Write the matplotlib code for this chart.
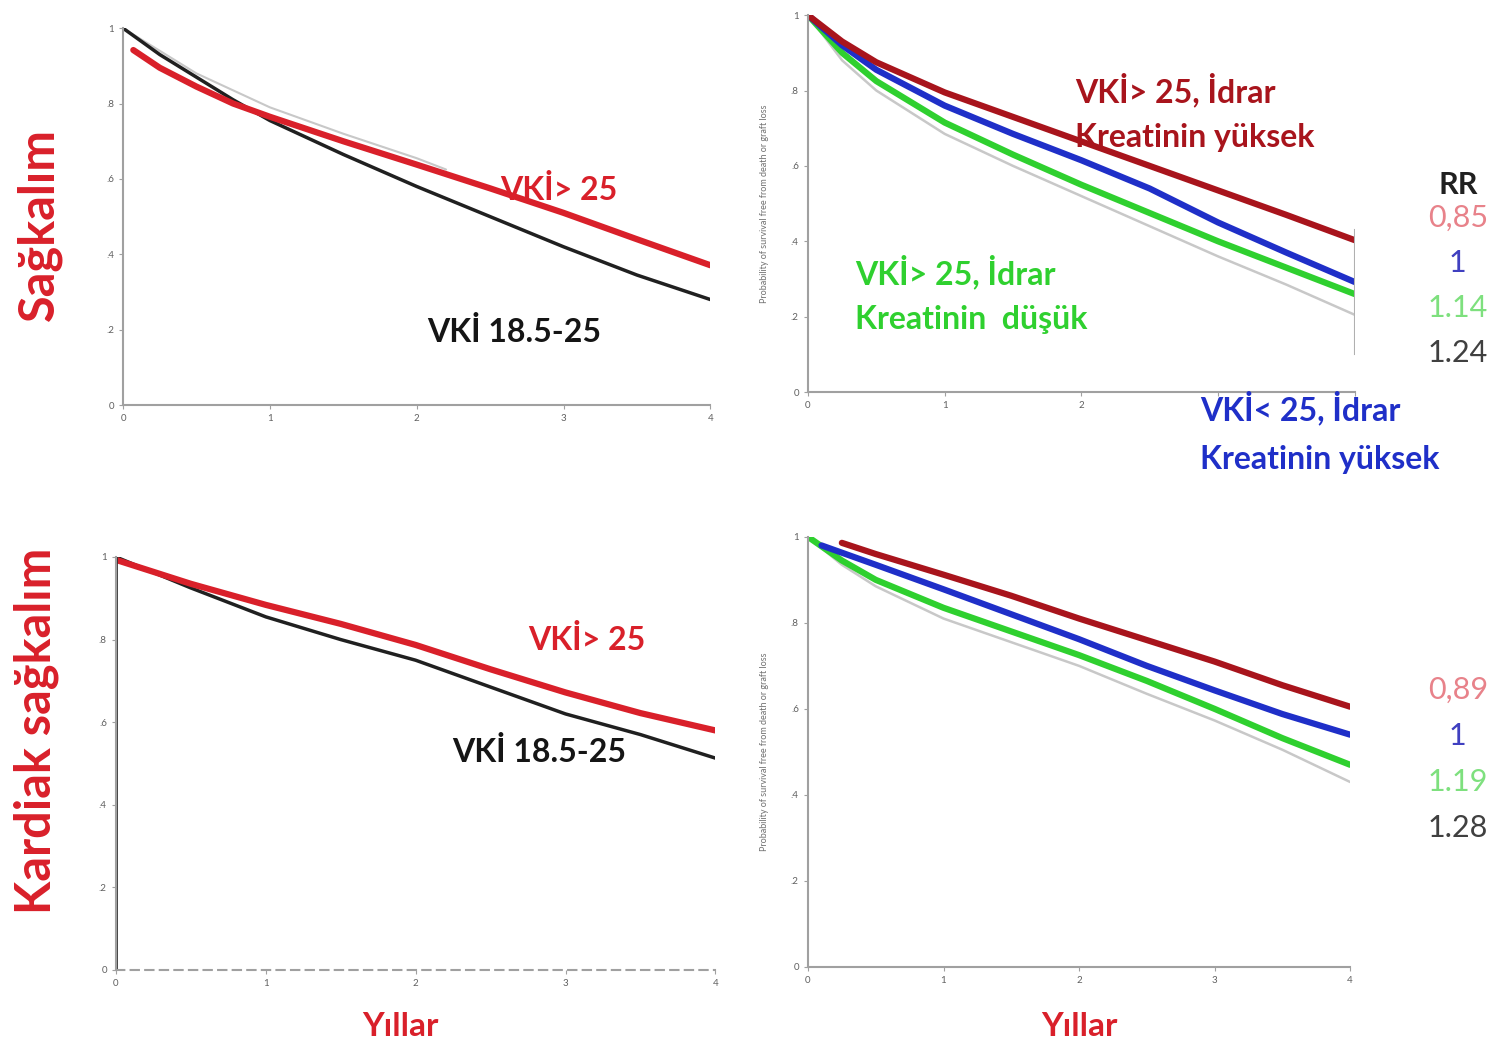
import matplotlib
matplotlib.use('Agg')
import matplotlib.pyplot as plt

plt.rcParams['font.family'] = ['Lato', 'DejaVu Sans']

# sol üst: genel sağkalım (yıl, oran)
tl_black_x = [0, 0.25, 0.5, 0.75, 1, 1.5, 2, 2.5, 3, 3.5, 4]
tl_black = [1.0, 0.93, 0.87, 0.81, 0.755, 0.665, 0.58, 0.50, 0.42, 0.345, 0.28]
tl_red_x = [0.07, 0.25, 0.5, 0.75, 1, 1.5, 2, 2.5, 3, 3.5, 4]
tl_red = [0.942, 0.895, 0.845, 0.80, 0.765, 0.70, 0.638, 0.575, 0.51, 0.44, 0.371]
tl_gray_x = [0, 0.5, 1, 1.5, 2, 2.2]
tl_gray = [1.0, 0.88, 0.79, 0.72, 0.655, 0.625]

# sağ üst: idrar kreatinin grupları
tr_x = [0, 0.25, 0.5, 1, 1.5, 2, 2.5, 3, 3.5, 4]
tr_red = [1.0, 0.93, 0.875, 0.795, 0.73, 0.665, 0.60, 0.535, 0.47, 0.403]
tr_blue = [1.0, 0.92, 0.855, 0.76, 0.685, 0.615, 0.54, 0.45, 0.37, 0.292]
tr_green = [1.0, 0.90, 0.825, 0.715, 0.63, 0.55, 0.475, 0.40, 0.33, 0.26]
tr_gray = [1.0, 0.88, 0.80, 0.685, 0.60, 0.52, 0.44, 0.36, 0.285, 0.205]

# sol alt: kardiak sağkalım
bl_x = [0, 0.5, 1, 1.5, 2, 2.5, 3, 3.5, 4]
bl_red = [0.993, 0.935, 0.884, 0.838, 0.787, 0.728, 0.672, 0.622, 0.58]
bl_black = [1.0, 0.925, 0.855, 0.80, 0.75, 0.685, 0.62, 0.57, 0.513]

# sağ alt
br_x = [0, 0.25, 0.5, 1, 1.5, 2, 2.5, 3, 3.5, 4]
br_red_x = [0.25, 0.5, 1, 1.5, 2, 2.5, 3, 3.5, 4]
br_red = [0.986, 0.96, 0.912, 0.863, 0.81, 0.76, 0.71, 0.655, 0.605]
br_blue_x = [0.1, 0.5, 1, 1.5, 2, 2.5, 3, 3.5, 4]
br_blue = [0.98, 0.935, 0.878, 0.82, 0.762, 0.70, 0.643, 0.588, 0.54]
br_green = [1.0, 0.945, 0.90, 0.835, 0.78, 0.725, 0.665, 0.60, 0.532, 0.47]
br_gray = [1.0, 0.935, 0.885, 0.81, 0.755, 0.70, 0.635, 0.573, 0.505, 0.43]

rr_top = ['0,85', '1', '1.14', '1.24']
rr_bottom = ['0,89', '1', '1.19', '1.28']
rr_colors = ['#e8828a', '#4040c0', '#7ee07e', '#404040']

y_ticks = [0, 0.2, 0.4, 0.6, 0.8, 1]
y_ticklabels = ['0', '.2', '.4', '.6', '.8', '1']
x_ticks = [0, 1, 2, 3, 4]

RED = '#d9202a'
DARKRED = '#a8141c'
BLUE = '#1f2fc8'
GREEN = '#2fd02f'
GRAY = '#c8c8c8'
LW = dict(solid_capstyle='round', solid_joinstyle='round')


def style_axes(ax, ylabel=None):
    for s in ['top', 'right']:
        ax.spines[s].set_visible(False)
    for s in ['left', 'bottom']:
        ax.spines[s].set_color('#a0a0a0')
        ax.spines[s].set_linewidth(1.5)
    ax.set_xlim(0, 4)
    ax.set_ylim(0, 1)
    ax.set_xticks(x_ticks)
    ax.set_yticks(y_ticks)
    ax.set_yticklabels(y_ticklabels)
    ax.tick_params(labelsize=7, colors='#a0a0a0', labelcolor='#606060', length=3)
    if ylabel:
        ax.set_ylabel(ylabel, fontsize=6.5, color='#707070', labelpad=16)


fig = plt.figure(figsize=(15.06, 10.44), dpi=100)

ax1 = fig.add_axes([0.0817, 0.612, 0.39, 0.361])
ax2 = fig.add_axes([0.5365, 0.6245, 0.363, 0.361])
ax3 = fig.add_axes([0.077, 0.0709, 0.398, 0.3956])
ax4 = fig.add_axes([0.5365, 0.0738, 0.36, 0.412])

TXT = dict(fontsize=23, fontweight='bold', ha='left', va='center')

# sol üst
ax1.plot(tl_gray_x, tl_gray, color=GRAY, lw=1.5, **LW)
ax1.plot(tl_black_x, tl_black, color='#202020', lw=2.5, **LW)
ax1.plot(tl_red_x, tl_red, color=RED, lw=4.5, **LW)
style_axes(ax1)

# sağ üst
ylab = 'Probability of survival free from death or graft loss'
ax2.plot(tr_x, tr_gray, color=GRAY, lw=1.8, **LW)
ax2.plot(tr_x, tr_green, color=GREEN, lw=4.5, **LW)
ax2.plot(tr_x, tr_blue, color=BLUE, lw=4.5, **LW)
ax2.plot(tr_x, tr_red, color=DARKRED, lw=4.5, **LW)
ax2.axvline(4, ymin=0.1, ymax=0.43, color='#b0b0b0', lw=1.5)
style_axes(ax2, ylab)
ax2.set_xticklabels(['0', '1', '2', '', ''])

# sol alt
ax3.plot(bl_x, bl_black, color='#202020', lw=2.5, **LW)
ax3.plot(bl_x, bl_red, color=RED, lw=4.5, **LW)
ax3.plot([0, 0], [0, 1], color='#303030', lw=2)
style_axes(ax3)
ax3.spines['bottom'].set_linestyle((0, (4, 3)))

# sağ alt
ax4.plot(br_x, br_gray, color=GRAY, lw=1.8, **LW)
ax4.plot(br_x, br_green, color=GREEN, lw=4.5, **LW)
ax4.plot(br_blue_x, br_blue, color=BLUE, lw=4.5, **LW)
ax4.plot(br_red_x, br_red, color=DARKRED, lw=4.5, **LW)
style_axes(ax4, ylab)

# panel etiketleri (şekil pikseli / 1506, 1044)
fig.text(500 / 1506, 1 - 190 / 1044, 'VKİ> 25', color=RED, **TXT)
fig.text(427 / 1506, 1 - 332 / 1044, 'VKİ 18.5-25', color='#151515', **TXT)
fig.text(528 / 1506, 1 - 640 / 1044, 'VKİ> 25', color=RED, **TXT)
fig.text(452 / 1506, 1 - 752 / 1044, 'VKİ 18.5-25', color='#151515', **TXT)

# eksen başlıkları
fig.text(0.026, 0.785, 'Sağkalım', color=RED, fontsize=35, fontweight='bold',
         rotation=90, ha='center', va='center')
fig.text(0.024, 0.30, 'Kardiak sağkalım', color=RED, fontsize=35,
         fontweight='bold', rotation=90, ha='center', va='center')
fig.text(0.266, 0.017, 'Yıllar', color=RED, fontsize=24, fontweight='bold',
         ha='center', va='center')
fig.text(0.717, 0.017, 'Yıllar', color=RED, fontsize=24, fontweight='bold',
         ha='center', va='center')

# grup etiketleri
fig.text(1075 / 1506, 1 - 90 / 1044, 'VKİ> 25, İdrar', color=DARKRED, **TXT)
fig.text(1075 / 1506, 1 - 137 / 1044, 'Kreatinin yüksek', color=DARKRED, **TXT)
fig.text(855 / 1506, 1 - 272 / 1044, 'VKİ> 25, İdrar', color=GREEN, **TXT)
fig.text(855 / 1506, 1 - 320 / 1044, 'Kreatinin  düşük', color=GREEN, **TXT)
fig.text(1200 / 1506, 1 - 408 / 1044, 'VKİ< 25, İdrar', color=BLUE, **TXT)
fig.text(1200 / 1506, 1 - 460 / 1044, 'Kreatinin yüksek', color=BLUE, **TXT)

# RR değerleri
fig.text(0.968, 0.823, 'RR', color='#202020', fontsize=22, fontweight='bold',
         ha='center', va='center')
for i, (lab, c) in enumerate(zip(rr_top, rr_colors)):
    fig.text(0.968, 0.791 - i * 0.043, lab, color=c, fontsize=22,
             ha='center', va='center')
for i, (lab, c) in enumerate(zip(rr_bottom, rr_colors)):
    fig.text(0.968, 0.339 - i * 0.044, lab, color=c, fontsize=22,
             ha='center', va='center')

fig.savefig('out.png', dpi=100)
